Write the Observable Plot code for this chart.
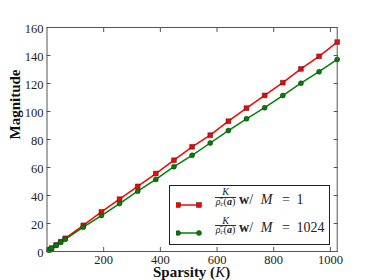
<!DOCTYPE html>
<html><head><meta charset="utf-8">
<script src="https://cdn.jsdelivr.net/npm/d3@7"></script>
<script src="https://cdn.jsdelivr.net/npm/@observablehq/plot@0.6"></script>
<style>
body{margin:0;background:#fff}
#wrap{position:relative;width:374px;height:280px;font-family:"Liberation Serif";color:#111}
#xlabel{position:absolute;left:46.5px;width:290.2px;top:266.6px;text-align:center;font-size:15px;line-height:10px;font-weight:bold;font-family:"Liberation Serif";color:#111}
#xlabel i{font-weight:normal}
#legend{position:absolute;left:169px;top:185px;width:161px;height:60px;box-sizing:border-box;border:1px solid #222;background:#fff}
.row{position:absolute;left:44px;width:115px;height:14px;font-size:14px;line-height:14px;white-space:nowrap;color:#222;font-family:"Liberation Serif"}
.frac{position:absolute;left:0;top:-4.6px;width:23px;text-align:center;font-size:10px;line-height:8.6px}
.frac .num{display:block;border-bottom:0.7px solid #333;font-style:italic;margin:0 1px}
.frac .den{display:block}
.txt{position:absolute;left:25px;top:0}
.sample{position:absolute;left:6px}
</style></head><body><div id="wrap"></div>
<script>
const sparsity = [8,16,32,48,64,128,192,256,320,384,448,512,576,640,704,768,832,896,960,1024];
const magM1 = [1.2,2.4,4.7,7.0,9.4,18.7,28.3,37.4,46.5,55.7,65.2,74.8,83.1,93.1,102.4,111.5,120.6,130.4,139.4,149.6];
const magM1024 = [1.1,2.2,4.3,6.5,8.7,17.4,25.7,34.2,43.1,51.5,60.6,68.7,77.5,86.4,94.8,102.7,111.4,120.2,128.4,137.2];
const xTicks = [200,400,600,800,1000];
const yTicks = [0,20,40,60,80,100,120,140,160];
const seriesM = ["1","1024"];
const seriesColors = ["#ff0000","#008000"];

const rows = sparsity.map((k,i)=>({k, m1: magM1[i], m1024: magM1024[i]}));
const blank = () => "";
const plain = d => String(d);

const chart = Plot.plot({
  width:374, height:280, marginLeft:46.5, marginRight:37.3, marginTop:27, marginBottom:29,
  style:{fontFamily:"Liberation Serif", fontSize:"12.5px", color:"#222", background:"#fff"},
  x:{domain:[0,1024]}, y:{domain:[0,160]},
  marks:[
    Plot.line(rows,{x:"k",y:"m1",stroke:seriesColors[0],strokeWidth:1.5}),
    Plot.dot(rows,{x:"k",y:"m1",symbol:"square",r:2.7,fill:seriesColors[0],stroke:"#222",strokeWidth:0.5}),
    Plot.line(rows,{x:"k",y:"m1024",stroke:seriesColors[1],strokeWidth:1.5}),
    Plot.dot(rows,{x:"k",y:"m1024",r:2.5,fill:seriesColors[1],stroke:"#222",strokeWidth:0.5}),
    Plot.axisX({anchor:"bottom", ticks:xTicks, tickSize:-4, tickFormat:blank, label:null, stroke:"#555"}),
    Plot.axisX({anchor:"top", ticks:xTicks, tickSize:-4, tickFormat:blank, label:null, stroke:"#555"}),
    Plot.axisY({anchor:"left", ticks:yTicks, tickSize:-4, tickFormat:blank, label:null, stroke:"#555"}),
    Plot.axisY({anchor:"right", ticks:yTicks, tickSize:-4, tickFormat:blank, label:null, stroke:"#555"}),
    Plot.axisX({anchor:"bottom", ticks:xTicks, tickSize:0, tickPadding:3.4, tickFormat:plain, label:null, fontFamily:"Liberation Serif"}),
    Plot.axisY({anchor:"left", ticks:yTicks, tickSize:0, tickPadding:3.5, tickFormat:plain, dy:1, label:null, fontFamily:"Liberation Serif"}),
    Plot.frame({stroke:"#555", strokeWidth:1}),
    Plot.text(["Magnitude"], {frameAnchor:"left", dx:-32, rotate:-90, fontWeight:"bold", fontSize:15, fill:"#111", fontFamily:"Liberation Serif"})
  ]
});
const wrap = document.getElementById("wrap");
wrap.appendChild(chart);

const xl = document.createElement("div");
xl.id = "xlabel";
xl.innerHTML = "Sparsity (<i>K</i>)";
wrap.appendChild(xl);

const leg = document.createElement("div");
leg.id = "legend";
const rowTops = [6.8, 35.3];
const lineYs = [18.7, 47.3];
seriesM.forEach((m, i) => {
  const svg = d3.create("svg").attr("class","sample").attr("width",26).attr("height",10)
    .style("top", (lineYs[i]-5)+"px");
  svg.append("line").attr("x1",2).attr("x2",23).attr("y1",5).attr("y2",5)
    .attr("stroke",seriesColors[i]).attr("stroke-width",1.5);
  [2,23].forEach(cx => {
    if (i === 0) svg.append("rect").attr("x",cx-2.4).attr("y",2.6).attr("width",4.8).attr("height",4.8)
      .attr("fill",seriesColors[i]).attr("stroke","#222").attr("stroke-width",0.5);
    else svg.append("circle").attr("cx",cx).attr("cy",5).attr("r",2.5)
      .attr("fill",seriesColors[i]).attr("stroke","#222").attr("stroke-width",0.5);
  });
  leg.appendChild(svg.node());
  const r = document.createElement("div");
  r.className = "row";
  r.style.top = rowTops[i] + "px";
  r.innerHTML = '<span class="frac"><span class="num">K</span><span class="den"><i>ρ̄</i><sub style="font-size:7px;font-style:italic;vertical-align:-1px">c</sub>(<b><i>a</i></b>)</span></span>' +
    '<span class="txt"><b>w</b>/<i style="margin-left:7.7px">M</i><span style="margin-left:9.5px">=</span><span style="margin-left:6.8px">' + m + '</span></span>';
  leg.appendChild(r);
});
wrap.appendChild(leg);
</script></body></html>
